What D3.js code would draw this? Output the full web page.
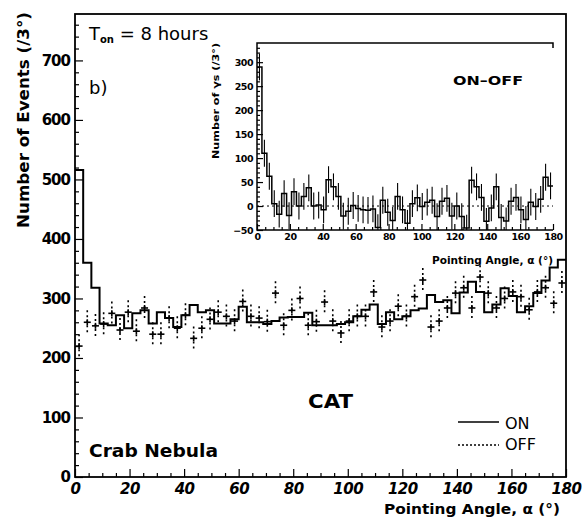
<!DOCTYPE html>
<html><head><meta charset="utf-8">
<script src="https://cdn.jsdelivr.net/npm/d3@7"></script>
<style>
body{margin:0;background:#fff;}
svg{display:block;font-family:"DejaVu Sans",sans-serif;}
</style></head>
<body><svg id="c" width="582" height="525"></svg>
<script>
// ---- data (3 degree bins, 0..180) ----
const binWidth = 3;
const onCounts = [516,360,318,258,255,272,250,275,280,258,277,267,252,272,289,277,280,258,258,265,
  286,260,260,257,262,268,269,269,276,255,255,255,257,260,270,281,290,257,277,265,
  270,280,283,306,294,297,275,310,328,311,277,290,317,304,277,287,309,330,352,365];
const offCounts = [220,260,254,257,275,247,277,245,284,240,240,267,250,272,233,250,265,277,270,262,
  295,270,267,261,309,255,280,300,255,261,294,262,242,262,270,270,311,252,262,287,
  270,303,331,252,262,284,309,318,284,336,309,284,300,311,303,281,311,318,292,326];
const offError = 20;
const diffValues = [290,110,62,5,-17,26,-20,30,0,20,38,0,2,-8,55,40,20,-21,-11,1,
  -5,-8,-9,-6,-45,12,-13,-30,20,-8,-36,5,17,-1,8,12,-22,10,16,-21,
  0,-22,-46,54,40,18,-32,-4,40,-24,-31,10,18,-8,-28,8,-1,14,60,42];
const diffError = 28;
const mainYTicks = [0,100,200,300,400,500,600,700];
const mainXTicks = [0,20,40,60,80,100,120,140,160,180];
const insetYTicks = [-50,0,50,100,150,200,250,300];
const insetXTicks = [0,20,40,60,80,100,120,140,160,180];

const svg = d3.select("#c");
const x = d3.scaleLinear([0,180],[75,566]);
const y = d3.scaleLinear([0,778],[477,14]);
const xi = d3.scaleLinear([0,180],[257,553]);
const yi = d3.scaleLinear([-50,340],[230,43]);

function stepPts(vals){
  const p = vals.map((v,i)=>[i*binWidth,v]);
  p.push([vals.length*binWidth, vals[vals.length-1]]);
  return p;
}

// ---------- main axes ----------
const gy = svg.append("g").attr("transform","translate(75,0)")
  .call(d3.axisLeft(y).tickValues(mainYTicks).tickSize(-8).tickPadding(5));
svg.append("g").attr("transform","translate(75,0)")
  .call(d3.axisLeft(y).tickValues(d3.range(0,780,20).filter(v=>v%100)).tickSize(-4).tickFormat(""));
const gx = svg.append("g").attr("transform","translate(0,477)")
  .call(d3.axisBottom(x).tickValues(mainXTicks).tickSize(-8).tickPadding(6));
svg.append("g").attr("transform","translate(0,477)")
  .call(d3.axisBottom(x).tickValues(d3.range(0,181,5).filter(v=>v%20)).tickSize(-4).tickFormat(""));
svg.selectAll(".domain").remove();
gy.selectAll("text").attr("font-size",15).attr("font-weight","bold").attr("fill","#000")
  .attr("font-family","DejaVu Sans").attr("letter-spacing","-1");
gx.selectAll("text").attr("font-size",15).attr("font-weight","bold").attr("font-style","italic")
  .attr("fill","#000").attr("font-family","DejaVu Sans").attr("letter-spacing","-0.5");
svg.selectAll(".tick line").attr("stroke","#000").attr("stroke-width",1.3);

// frame
svg.append("rect").attr("x",x(0)).attr("y",y(778)).attr("width",x(180)-x(0)).attr("height",y(0)-y(778))
  .attr("fill","none").attr("stroke","#000").attr("stroke-width",1.8);

// ON histogram
svg.append("path").attr("d", d3.line().x(d=>x(d[0])).y(d=>y(d[1])).curve(d3.curveStepAfter)(stepPts(onCounts)))
  .attr("fill","none").attr("stroke","#000").attr("stroke-width",2);

// OFF points
const off = svg.append("g");
offCounts.forEach((v,i)=>{
  const cx = x(i*binWidth+binWidth/2), cy = y(v);
  off.append("line").attr("x1",cx).attr("x2",cx).attr("y1",y(v+offError)).attr("y2",y(v-offError))
    .attr("stroke","#000").attr("stroke-width",1.6).attr("stroke-dasharray","2,3");
  off.append("line").attr("x1",cx).attr("x2",cx).attr("y1",cy-3).attr("y2",cy+3)
    .attr("stroke","#000").attr("stroke-width",1.6);
  off.append("line").attr("x1",cx-3.5).attr("x2",cx+3.5).attr("y1",cy).attr("y2",cy)
    .attr("stroke","#000").attr("stroke-width",1.6);
});

// ---------- inset ----------
const giy = svg.append("g").attr("transform","translate(257,0)")
  .call(d3.axisLeft(yi).tickValues(insetYTicks).tickSize(-6).tickPadding(4)
  .tickFormat(d=>d<0?"\u2212"+(-d):d));
svg.append("g").attr("transform","translate(257,0)")
  .call(d3.axisLeft(yi).tickValues(d3.range(-50,340,10).filter(v=>v%50)).tickSize(-3).tickFormat(""));
const gix = svg.append("g").attr("transform","translate(0,230)")
  .call(d3.axisBottom(xi).tickValues(insetXTicks).tickSize(-6).tickPadding(3));
svg.append("g").attr("transform","translate(0,230)")
  .call(d3.axisBottom(xi).tickValues(d3.range(0,181,5).filter(v=>v%20)).tickSize(-3).tickFormat(""));
svg.selectAll(".domain").remove();
[giy,gix].forEach(g=>g.selectAll("text").attr("font-size",9.5).attr("font-weight","bold")
  .attr("fill","#000").attr("font-family","DejaVu Sans").attr("letter-spacing","-0.5"));
svg.selectAll(".tick line").attr("stroke","#000").attr("stroke-width",1.2);

// inset frame (left, bottom, top)
svg.append("path").attr("d",`M${xi(180)},${yi(340)+5}V${yi(340)}H${xi(0)}V${yi(-50)}H${xi(180)}`)
  .attr("fill","none").attr("stroke","#000").attr("stroke-width",1.5);
// zero line
svg.append("line").attr("x1",xi(0)).attr("x2",xi(180)).attr("y1",yi(0)).attr("y2",yi(0))
  .attr("stroke","#000").attr("stroke-width",1).attr("stroke-dasharray","2,3");
// diff histogram
svg.append("path").attr("d", d3.line().x(d=>xi(d[0])).y(d=>yi(Math.max(-50,d[1]))).curve(d3.curveStepAfter)(stepPts(diffValues)))
  .attr("fill","none").attr("stroke","#000").attr("stroke-width",1.5);
const ie = svg.append("g");
diffValues.forEach((v,i)=>{
  const cx = xi(i*binWidth+binWidth/2);
  ie.append("line").attr("x1",cx).attr("x2",cx)
    .attr("y1",yi(Math.min(340,v+diffError))).attr("y2",yi(Math.max(-50,v-diffError)))
    .attr("stroke","#000").attr("stroke-width",1.1);
});

// ---------- texts ----------
function txt(s,xx,yy,size,opts={}){
  const t = svg.append("text").attr("x",xx).attr("y",yy).attr("font-size",size)
    .attr("fill","#000").attr("font-family",opts.family||"DejaVu Sans")
    .attr("font-weight",opts.weight||"bold").attr("text-anchor",opts.anchor||"start");
  if(opts.rotate) t.attr("transform",`rotate(-90,${xx},${yy})`);
  if(opts.len) t.attr("textLength",opts.len).attr("lengthAdjust","spacingAndGlyphs");
  t.text(s);
  return t;
}
txt("Number of Events (/3°)",29,120,15,{rotate:true,anchor:"middle",len:216});
txt("Pointing Angle, \u03b1 (°)",560,514,14.5,{anchor:"end",len:176});
txt("Number of \u03b3s (/3°)",219,101,9,{rotate:true,anchor:"middle",len:116});
txt("Pointing Angle, \u03b1 (°)",553,264,11,{anchor:"end",len:121});
txt("ON\u2013OFF",453,85,12.5,{len:70});
const t1 = svg.append("text").attr("x",89).attr("y",40).attr("font-size",18).attr("fill","#000")
  .attr("font-family","DejaVu Sans");
t1.append("tspan").text("T");
t1.append("tspan").attr("font-size",10).attr("font-weight","bold").attr("dy",3).text("on");
t1.append("tspan").attr("dy",-3).text(" = 8 hours");
txt("b)",89,94,18,{weight:"normal"});
txt("Crab Nebula",89,457,17,{len:129});
txt("CAT",308,408,20,{len:45});
txt("ON",505,429,16,{weight:"normal"});
txt("OFF",505,450,16,{weight:"normal"});
svg.append("line").attr("x1",458).attr("x2",499).attr("y1",422).attr("y2",422)
  .attr("stroke","#000").attr("stroke-width",1.6);
svg.append("line").attr("x1",458).attr("x2",499).attr("y1",445).attr("y2",445)
  .attr("stroke","#000").attr("stroke-width",1.3).attr("stroke-dasharray","2,2");
</script></body></html>
